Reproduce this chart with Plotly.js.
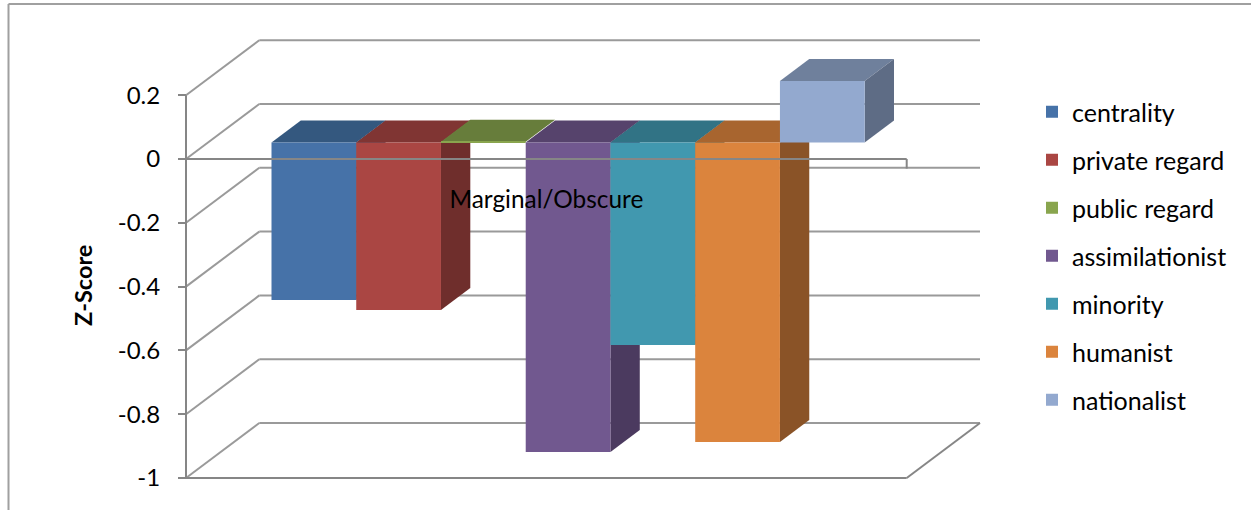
<!DOCTYPE html>
<html>
<head>
<meta charset="utf-8">
<script src="https://cdn.plot.ly/plotly-3.0.1.min.js"></script>
<style>html,body{margin:0;padding:0;background:#fff;overflow:hidden}</style>
</head>
<body>
<div id="chart" style="width:1251px;height:510px"></div>
<script>
// Z-scores per identity scale for the one category on the axis
const category = 'Marginal/Obscure';
const series = ['centrality', 'private regard', 'public regard', 'assimilationist', 'minority', 'humanist', 'nationalist'];
const values = [-0.494, -0.525, 0.002, -0.97, -0.635, -0.939, 0.193];
const frontColors = ['#4672A8', '#AA4643', '#89A54E', '#71588F', '#4198AF', '#DB843D', '#93A9CF'];
const topColors = ['#34587F', '#803533', '#677D3B', '#56436C', '#317385', '#A8652F', '#6F809C'];
const sideColors = ['#2E4D70', '#6F2E2C', '#5A6D33', '#4B3A5F', '#2A6474', '#8A5327', '#5E6C85'];
const yTicks = [-1, -0.8, -0.6, -0.4, -0.2, 0, 0.2];
const yTitle = 'Z-Score';

// Plot box in pixels, slightly larger than the chart box so its outer lines are not clipped
const box = {left: 176, right: 984, top: 36, bottom: 482};
const boxW = box.right - box.left, boxH = box.bottom - box.top;
const xUnit = 84.74, yUnit = 319;
const firstBarPx = 313.87, zeroPx = 159;
const xRange = [(box.left - firstBarPx) / xUnit, (box.right - firstBarPx) / xUnit];
const yRange = [(zeroPx - box.bottom) / yUnit, (zeroPx - box.top) / yUnit];

// Oblique projection: depth 0 is the front plane, depth 1 the back wall
const depthX = 73.3 / xUnit, depthY = 55 / yUnit;
const project = (x, depth, v) => [x + depth * depthX, v + depth * depthY];
const barFront = 0.3, barBack = 0.7;
const wallLeft = (186 - firstBarPx) / xUnit, wallRight = (906.7 - firstBarPx) / xUnit;
const barBase = project(0, barFront, 0)[1];
const barX = i => i - barFront * depthX;

const gridColor = '#9A9A9A', axisColor = '#868686';
const line = (a, b, color, width, layer) => ({
  type: 'line', xref: 'x', yref: 'y', layer: layer || 'below',
  x0: a[0], y0: a[1], x1: b[0], y1: b[1], line: {color: color, width: width}
});
const face = (pts, color) => ({
  type: 'path', xref: 'x', yref: 'y', layer: 'below', fillcolor: color, line: {width: 0},
  path: 'M' + pts.map(p => p[0] + ' ' + p[1]).join('L') + 'Z'
});
const framePx = (x0, y0, x1, y1) => ({
  type: 'line', xref: 'paper', yref: 'paper',
  x0: (x0 - box.left) / boxW, x1: (x1 - box.left) / boxW,
  y0: (box.bottom - y0) / boxH, y1: (box.bottom - y1) / boxH,
  line: {color: '#A0A0A0', width: 2}
});

const shapes = [framePx(8.5, 4, 1251, 4), framePx(8.5, 4, 8.5, 510)];

// Side wall, back wall and floor lines
yTicks.forEach(t => {
  const backL = project(wallLeft, 1, t), backR = project(wallRight, 1, t);
  shapes.push(line([wallLeft, t], backL, gridColor, 2));
  shapes.push(line(backL, backR, gridColor, 2));
});
shapes.push(line([wallLeft, -1], [wallRight, -1], axisColor, 2));
shapes.push(line([wallRight, -1], project(wallRight, 1, -1), axisColor, 2));
shapes.push(line([wallLeft, -1], [wallLeft, 0.2], axisColor, 2));

// Top and right faces of each bar; the front faces are the bar traces
series.forEach((name, i) => {
  const l = barX(i) - 0.5, r = barX(i) + 0.5, v = values[i], up = Math.max(v, 0);
  shapes.push(face([project(l, barFront, up), project(r, barFront, up), project(r, barBack, up), project(l, barBack, up)], topColors[i]));
  if (Math.abs(v) > 0.01) {
    shapes.push(face([project(r, barFront, v), project(r, barBack, v), project(r, barBack, 0), project(r, barFront, 0)], sideColors[i]));
  }
});

// Zero line crosses in front of the bars and ends in a short drop to the wall
shapes.push(line([wallLeft, 0], [wallRight, 0], axisColor, 2, 'above'));
shapes.push(line([wallRight, 0], [wallRight, -0.03], axisColor, 2, 'above'));

const traces = series.map((name, i) => ({
  type: 'bar', name: name, legendgroup: name,
  x: [i], y: [values[i]], base: [barBase], width: [1],
  marker: {color: frontColors[i], line: {width: 0}},
  hovertemplate: name + ': %{y}<extra></extra>'
}));

const font = 'Lato, Carlito, Calibri, sans-serif';
const layout = {
  width: 1251, height: 510,
  paper_bgcolor: '#fff', plot_bgcolor: 'rgba(0,0,0,0)',
  margin: {l: box.left, r: 1251 - box.right, t: box.top, b: 510 - box.bottom, pad: 0, autoexpand: false},
  barmode: 'overlay',
  font: {family: font, size: 24, color: '#000'},
  xaxis: {
    range: xRange, anchor: 'free', position: (box.bottom - 183) / boxH,
    tickmode: 'array', tickvals: [(wallLeft + wallRight) / 2], ticktext: [category],
    ticks: '', showgrid: false, zeroline: false, showline: false, fixedrange: true,
    tickfont: {family: font, size: 24.4, color: '#000'}, layer: 'above traces'
  },
  yaxis: {
    range: yRange, anchor: 'free', position: (186 - box.left) / boxW,
    tickmode: 'array', tickvals: yTicks, ticktext: yTicks.map(String),
    ticks: 'outside', ticklen: 8, tickwidth: 2, tickcolor: axisColor, ticklabelstandoff: 13,
    showgrid: false, zeroline: false, showline: false, fixedrange: true,
    tickfont: {family: font, size: 24, color: '#000'}
  },
  annotations: [{
    text: '<b>' + yTitle + '</b>', textangle: -90, showarrow: false,
    xref: 'paper', yref: 'paper', xanchor: 'center', yanchor: 'middle',
    x: (83 - box.left) / boxW, y: (box.bottom - 286) / boxH,
    font: {family: font, size: 23.5, color: '#000'}
  }],
  showlegend: true,
  legend: {
    x: (1032 - box.left) / boxW, y: (box.bottom - 89) / boxH, xanchor: 'left', yanchor: 'top',
    bgcolor: 'rgba(0,0,0,0)', borderwidth: 0, traceorder: 'grouped', tracegroupgap: 12.5,
    font: {family: font, size: 25, color: '#000'}
  },
  shapes: shapes
};
Plotly.newPlot('chart', traces, layout, {displayModeBar: false, responsive: false});
</script>
</body>
</html>
